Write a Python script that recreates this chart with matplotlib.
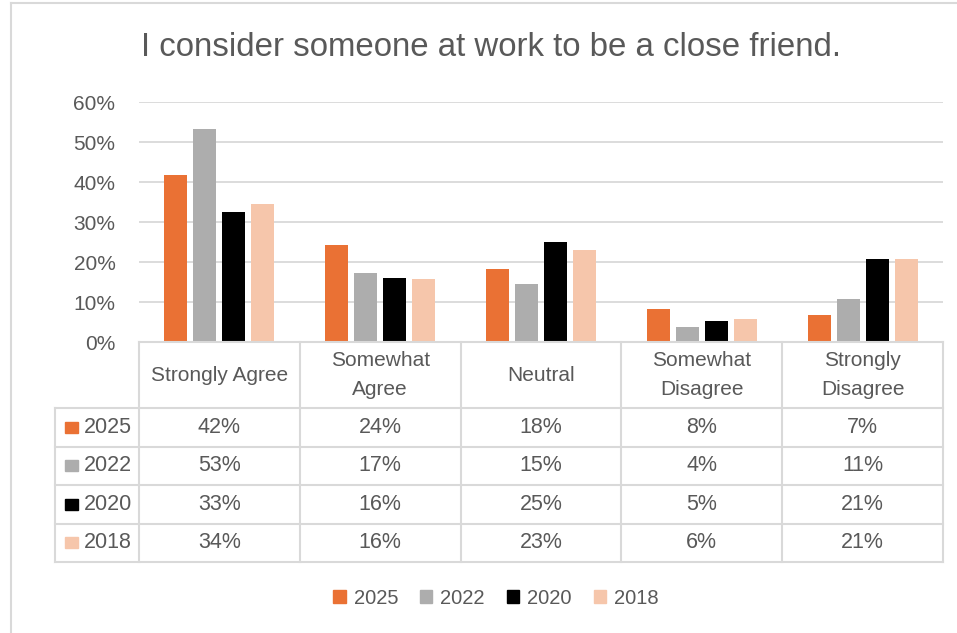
import matplotlib
matplotlib.use("Agg")
import matplotlib.pyplot as plt
from matplotlib.patches import Patch
from matplotlib.ticker import PercentFormatter

plt.rcParams["font.family"] = ["Liberation Sans", "DejaVu Sans"]

categories = ["Strongly Agree", "Somewhat\nAgree", "Neutral", "Somewhat\nDisagree", "Strongly\nDisagree"]
years = ["2025", "2022", "2020", "2018"]
vals_2025 = [0.418, 0.242, 0.183, 0.083, 0.067]
vals_2022 = [0.533, 0.173, 0.146, 0.037, 0.108]
vals_2020 = [0.326, 0.160, 0.250, 0.052, 0.207]
vals_2018 = [0.344, 0.158, 0.230, 0.057, 0.207]
series = [vals_2025, vals_2022, vals_2020, vals_2018]
colors = ["#ea7134", "#adadad", "#000000", "#f6c6ab"]
yticks = [0, 0.1, 0.2, 0.3, 0.4, 0.5, 0.6]

W, H = 957, 633
TXT = "#595959"
GRID = "#d9d9d9"

fig = plt.figure(figsize=(W / 100, H / 100), dpi=100)


def px_axes(x0, y0, x1, y1):
    # axes placed by pixel box (origin top-left)
    return fig.add_axes([x0 / W, 1 - y1 / H, (x1 - x0) / W, (y1 - y0) / H])


# chart border
fig.add_artist(plt.Line2D([11 / W, 11 / W], [0, 1 - 3 / H], color=GRID, lw=1.5))
fig.add_artist(plt.Line2D([11 / W, 1], [1 - 3 / H, 1 - 3 / H], color=GRID, lw=1.5))

fig.text(491 / W, 1 - 48 / H, "I consider someone at work to be a close friend.",
         ha="center", va="center", fontsize=23.8, color=TXT)

# bars
ax = px_axes(139, 102, 943, 342)
n = len(categories)
bw, step = 0.143, 0.18
for k, (vals, c) in enumerate(zip(series, colors)):
    xs = [i + (k - 1.5) * step for i in range(n)]
    ax.bar(xs, vals, width=bw, color=c, zorder=3)
ax.set_xlim(-0.5, n - 0.5)
ax.set_ylim(0, 0.6)
ax.set_yticks(yticks)
ax.yaxis.set_major_formatter(PercentFormatter(1.0, decimals=0))
ax.grid(axis="y", color=GRID, lw=1.3, zorder=0)
ax.set_xticks([])
for s in ["top", "right", "left", "bottom"]:
    ax.spines[s].set_visible(False)
ax.tick_params(axis="y", length=0, labelsize=15, labelcolor=TXT, pad=17)

# data table below the axis
tx0 = -0.5 - (139 - 55) / 160.8
tab = px_axes(55, 342, 943, 562)
tab.set_xlim(tx0, n - 0.5)
tab.set_ylim(562, 342)
tab.axis("off")
row_y = [408, 446.5, 485, 523.5, 562]
lkw = dict(color=GRID, lw=1.5, clip_on=False)
tab.plot([-0.5, n - 0.5], [342, 342], **lkw)
for y in row_y:
    tab.plot([tx0, n - 0.5], [y, y], **lkw)
tab.plot([tx0, tx0], [408, 562], **lkw)
for i in range(n + 1):
    tab.plot([i - 0.5, i - 0.5], [342, 562], **lkw)

for i, cat in enumerate(categories):
    tab.text(i, 375, cat, ha="center", va="center", fontsize=15,
             color=TXT, linespacing=1.65)

for r, (yr, vals, c) in enumerate(zip(years, series, colors)):
    yc = (row_y[r] + row_y[r + 1]) / 2
    tab.add_patch(plt.Rectangle((tx0 + 10 / 160.8, yc - 5.5), 13 / 160.8, 11,
                                color=c, clip_on=False))
    tab.text(tx0 + 29 / 160.8, yc, yr, ha="left", va="center", fontsize=15.5, color=TXT)
    for i, v in enumerate(vals):
        tab.text(i, yc, f"{v:.0%}", ha="center", va="center", fontsize=15.5, color=TXT)

handles = [Patch(color=c, label=y) for y, c in zip(years, colors)]
fig.legend(handles=handles, loc="center", bbox_to_anchor=(496 / W, 1 - 598 / H),
           ncol=4, frameon=False, fontsize=14.5, labelcolor=TXT,
           handlelength=0.6, handleheight=0.6, handletextpad=0.4, columnspacing=1.1)

fig.savefig("out.png", dpi=100)
